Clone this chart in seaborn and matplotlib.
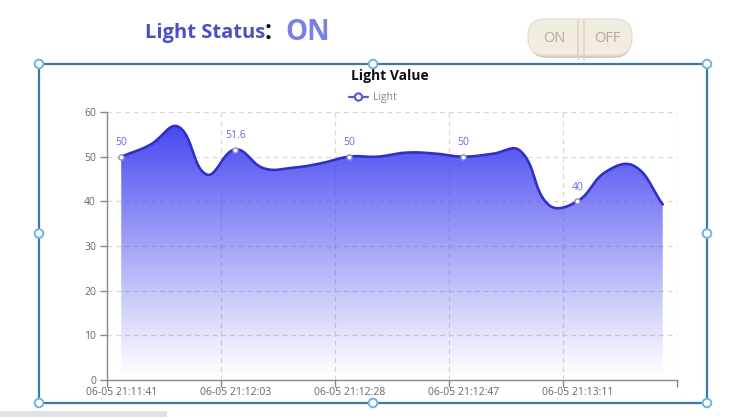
import numpy as np
import pandas as pd
import matplotlib
matplotlib.use("Agg")
import matplotlib.pyplot as plt
import seaborn as sns
from matplotlib.patches import FancyBboxPatch, Circle, Rectangle, Polygon

# ---------------- data ----------------
times = ["06-05 21:11:41", "06-05 21:11:46", "06-05 21:11:52", "06-05 21:11:57",
         "06-05 21:12:03", "06-05 21:12:09", "06-05 21:12:15", "06-05 21:12:22",
         "06-05 21:12:28", "06-05 21:12:33", "06-05 21:12:38", "06-05 21:12:42",
         "06-05 21:12:47", "06-05 21:12:53", "06-05 21:12:59", "06-05 21:13:05",
         "06-05 21:13:11", "06-05 21:13:17", "06-05 21:13:23", "06-05 21:13:29"]
light = [50, 52.6, 56.7, 46.0, 51.6, 47.4, 47.5, 48.5, 50, 50,
         50.9, 50.7, 50, 50.6, 51.3, 39.2, 40, 46.6, 47.9, 39.3]
label_every = 4
y_ticks = [0, 10, 20, 30, 40, 50, 60]

sns.set_theme(style="white")
plt.rcParams['font.family'] = ['Open Sans', 'DejaVu Sans']

W, H = 748, 419
fig = plt.figure(figsize=(W / 100, H / 100), dpi=100)
fig.patch.set_facecolor("white")

# background / decoration layer in pixel coordinates
bg = fig.add_axes([0, 0, 1, 1], zorder=0)
bg.set_xlim(0, W)
bg.set_ylim(H, 0)
bg.axis("off")

# header
bg.text(145, 33, "Light Status", fontsize=14.5, fontweight="bold", color="#4a4fc6",
        ha="left", va="center")
bg.text(263, 32, "：", fontsize=16, fontweight="bold", color="#111111",
        ha="left", va="center", family=['Noto Sans CJK SC', 'DejaVu Sans'])
bg.text(285, 32, "ON", fontsize=20, fontweight="bold", color="#7b7fe3",
        ha="left", va="center")

# toggle switch
bg.add_patch(FancyBboxPatch((530, 22), 101, 36, boxstyle="round,pad=0,rounding_size=17",
                            fc="#d6cdbf", ec="none"))
bg.add_patch(FancyBboxPatch((528, 19), 104, 36, boxstyle="round,pad=0,rounding_size=17",
                            fc="#f2ebe0", ec="#e6dfd3", lw=1))
bg.plot([578, 578], [20, 60], color="#ddd5c9", lw=1.2)
bg.plot([584, 584], [20, 60], color="#ddd5c9", lw=1.2)
bg.text(554, 38, "ON", fontsize=10.5, color="#b3ab9f", ha="center", va="center")
bg.text(607, 38, "OFF", fontsize=10.5, color="#b3ab9f", ha="center", va="center")

# selection box with handles
bx0, bx1, by0, by1 = 39, 707, 64, 403
bg.add_patch(Rectangle((bx0, by0), bx1 - bx0, by1 - by0, fill=False,
                       ec="#3b7aa6", lw=1.6))
for hx, hy in [(bx0, by0), ((bx0 + bx1) / 2, by0), (bx1, by0),
               (bx0, (by0 + by1) / 2), (bx1, (by0 + by1) / 2),
               (bx0, by1), ((bx0 + bx1) / 2, by1), (bx1, by1)]:
    bg.add_patch(Circle((hx, hy), 4.3, fc="white", ec="#6fb4e0", lw=1.4, zorder=5))

# scroll bar at bottom
bg.add_patch(Rectangle((0, 411), 167, 6, fc="#e2e2e2", ec="none"))

# chart title and legend
bg.text(390, 76, "Light Value", fontsize=10, fontweight="bold", color="#111111",
        ha="center", va="center")
bg.plot([349, 368], [97, 97], color="#5a5ad6", lw=1.6)
bg.add_patch(Circle((358.5, 97), 3.6, fc="white", ec="#5a5ad6", lw=1.6, zorder=4))
bg.text(373, 97, "Light", fontsize=7.5, color="#888888", ha="left", va="center")

# ---------------- chart ----------------
px_l, px_r, px_t, px_b = 107, 677, 112, 380
ax = fig.add_axes([px_l / W, 1 - px_b / H, (px_r - px_l) / W, (px_b - px_t) / H], zorder=1)
ax.set_facecolor("none")

n = len(light)
xi = np.arange(n, dtype=float)
yi = np.array(light, dtype=float)

# ECharts-style bezier smoothing (computed in pixel-like space)
sx = (px_r - px_l) / n
sy = (px_b - px_t) / 60.0
smooth = 0.42
P = np.column_stack([xi * sx, yi * sy])
xs, ys = [], []
for i in range(n - 1):
    p0 = P[i]
    p1 = P[i + 1]
    prev = P[i - 1] if i > 0 else P[i]
    nxt = P[i + 2] if i + 2 < n else P[i + 1]
    v = (p1 - prev) * smooth
    d0 = np.linalg.norm(p0 - prev); d1 = np.linalg.norm(p1 - p0)
    r = d1 / (d0 + d1) if (d0 + d1) > 0 else 0.5
    c1 = p0 + v * r
    v2 = (nxt - p0) * smooth
    e0 = np.linalg.norm(p1 - p0); e1 = np.linalg.norm(nxt - p1)
    r2 = e0 / (e0 + e1) if (e0 + e1) > 0 else 0.5
    c2 = p1 - v2 * r2
    t = np.linspace(0, 1, 30, endpoint=(i == n - 2))
    B = ((1 - t) ** 3)[:, None] * p0 + (3 * (1 - t) ** 2 * t)[:, None] * c1 + \
        (3 * (1 - t) * t ** 2)[:, None] * c2 + (t ** 3)[:, None] * p1
    xs.extend(B[:, 0] / sx)
    ys.extend(B[:, 1] / sy)
xs = np.array(xs); ys = np.array(ys)

# gradient area
ymax = ys.max()
grad = np.zeros((256, 1, 4))
frac = np.linspace(0, 1, 256)[:, None]  # 0 bottom -> 1 top
base = np.array([70, 70, 242]) / 255.0
grad[:, 0, :3] = base
grad[:, 0, 3] = (frac[:, 0] ** 1.1)
poly = Polygon(np.column_stack([np.r_[xs, xs[-1], xs[0]], np.r_[ys, 0, 0]]),
               closed=True, fc="none", ec="none", transform=ax.transData)
ax.add_patch(poly)
im = ax.imshow(grad, extent=[xs[0], xs[-1], 0, ymax], origin="lower", aspect="auto",
               zorder=1, interpolation="bicubic")
im.set_clip_path(poly)

df_line = pd.DataFrame({"x": xs, "y": ys})
sns.lineplot(data=df_line, x="x", y="y", ax=ax, color="#3030c8", lw=1.9, sort=False,
             estimator=None, zorder=3)

lab_idx = list(range(0, n, label_every))
df_pts = pd.DataFrame({"x": xi[lab_idx], "y": yi[lab_idx]})
sns.scatterplot(data=df_pts, x="x", y="y", ax=ax, s=14, facecolor="white",
                edgecolor="#8a8ad8", linewidth=1.0, zorder=4)
for i in lab_idx:
    v = light[i]
    ax.annotate(f"{v:g}", (i, v), xytext=(0, 6), textcoords="offset points",
                ha="center", va="bottom", fontsize=7.5, color="#6a6ad6", zorder=5)

ax.set_xlim(-0.5, n - 0.5)
ax.set_ylim(0, 60)
ax.set_yticks(y_ticks)
ax.set_yticklabels([str(t) for t in y_ticks])
bounds = np.arange(-0.5, n, label_every)
ax.set_xticks(bounds)
ax.set_xticklabels([])
ax.set_xticks(lab_idx, minor=True)
ax.set_xticklabels([times[i] for i in lab_idx], minor=True)
ax.tick_params(axis="x", which="major", length=5, width=1, color="#888888", direction="out",
               bottom=True)
ax.tick_params(axis="x", which="minor", length=0, pad=5, labelsize=7.5, labelcolor="#666666")
ax.tick_params(axis="y", length=5, width=1, color="#888888", direction="out", left=True,
               pad=3, labelsize=7.5, labelcolor="#666666")

for t in y_ticks[1:]:
    ax.axhline(t, color="#d8d8d8", lw=0.9, ls=(0, (4, 3)), zorder=0.5)
for b in bounds[1:]:
    ax.axvline(b, color="#d8d8d8", lw=0.9, ls=(0, (4, 3)), zorder=0.5)

for s in ["top", "right"]:
    ax.spines[s].set_visible(False)
for s in ["left", "bottom"]:
    ax.spines[s].set_color("#888888")
    ax.spines[s].set_linewidth(1)
ax.set_xlabel("")
ax.set_ylabel("")
ax.grid(False)

fig.savefig("out.png", dpi=100)
